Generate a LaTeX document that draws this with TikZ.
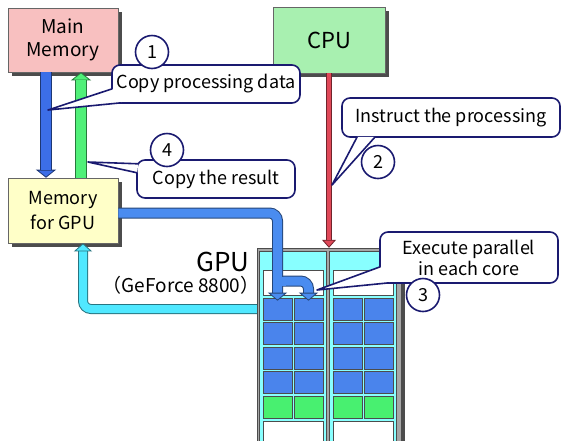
\documentclass[tikz,border=0pt]{standalone}
\usepackage{fontspec}
\setmainfont{Noto Sans CJK JP}
\usetikzlibrary{arrows.meta,shadows}
\definecolor{mainpink}{HTML}{F8C0C0}
\definecolor{cpugreen}{HTML}{A8F0B0}
\definecolor{memyellow}{HTML}{FFFFC8}
\definecolor{lineblue}{HTML}{1A1A70}
\definecolor{copyblue}{HTML}{3C6EE8}
\definecolor{gpublue}{HTML}{4A8CF0}
\definecolor{resultgreen}{HTML}{50F078}
\definecolor{returncyan}{HTML}{50E8FF}
\definecolor{cmdred}{HTML}{E04858}
\definecolor{corecyan}{HTML}{88FFFF}
\definecolor{coreblue}{HTML}{4A84EC}
\definecolor{coregreen}{HTML}{48F070}
\begin{document}
\begin{tikzpicture}[x=1pt,y=-1pt,
    membox/.style={draw=black!60,line width=0.6pt,align=center,inner sep=0pt,
      drop shadow={shadow xshift=4pt,shadow yshift=-4pt,fill=black!70,opacity=1}},
    fat/.style n args={4}{draw=#1!50!black,line width=#2,
      -{Triangle[width=#4,length=8pt,line width=0.8pt,fill=#1]},
      postaction={draw=#1,line width=#3,-,shorten >=8pt}},
    callout/.style={draw=lineblue,line width=1.6pt,fill=white,rounded corners=8pt,
      align=center,inner sep=0pt,font=\fontsize{18}{21}\selectfont},
    wedge/.style={draw=lineblue,line width=1.6pt,line join=round},
    stepnum/.style={circle,draw=lineblue,line width=1.6pt,fill=white,
      minimum size=33pt,inner sep=0pt,font=\fontsize{18}{18}\selectfont},
    core/.style={draw=black!70,line width=0.6pt,minimum width=29pt,
      minimum height=22pt,inner sep=0pt}]
\useasboundingbox (0,0) rectangle (570,440);
\clip (0,0) rectangle (570,440);

\node[membox,fill=mainpink,minimum width=110pt,minimum height=64pt,
  font=\fontsize{19}{23}\selectfont] (mainmem) at (63,40) {Main\\Memory};
\node[membox,fill=cpugreen,minimum width=112pt,minimum height=66pt,
  font=\fontsize{22}{24}\selectfont] (cpu) at (329,40) {CPU};
\node[membox,fill=memyellow,minimum width=110pt,minimum height=65pt,
  font=\fontsize{18}{25}\selectfont] (memgpu) at (63,210.5) {Memory\\for GPU};

\node[draw=black!70,fill=black!35,minimum width=144pt,minimum height=200pt,inner sep=0pt,
  drop shadow={shadow xshift=4pt,shadow yshift=-2pt,fill=black!70,opacity=1}] (gpu) at (329,348) {};
\node[draw=black!70,fill=corecyan,minimum width=67pt,minimum height=200pt,inner sep=0pt] (colL) at (293,351) {};
\node[draw=black!70,fill=corecyan,minimum width=67pt,minimum height=200pt,inner sep=0pt] (colR) at (363,351) {};
\node[core,fill=white,minimum width=60pt,minimum height=25pt] (bufL) at (293,282.5) {};
\node[core,fill=white,minimum width=60pt,minimum height=25pt] (bufR) at (363,282.5) {};
\foreach \r/\fillc in {1/coreblue,2/coreblue,3/coreblue,4/coreblue,5/coregreen}
  \foreach \c/\xc in {1/277.5,2/308.5,3/347.5,4/378.5}
    \node[core,fill=\fillc] (cell\r\c) at (\xc,{284.5+24.5*\r}) {};
\node[core,fill=white,minimum width=60pt] (restL) at (293,432.5) {};
\node[core,fill=white,minimum width=60pt] (restR) at (363,432.5) {};

\node[font=\fontsize{26}{26}\selectfont] (gpulabel) at (223,262) {GPU};
\node[font=\fontsize{19}{19}\selectfont] (gpumodel) at (181,285) {（GeForce 8800）};

\draw[fat={copyblue}{12pt}{10pt}{20pt}] ([xshift=-17pt]mainmem.south) -- ([xshift=-17pt]memgpu.north);
\draw[fat={resultgreen}{12pt}{10pt}{20pt}] ([xshift=18pt]memgpu.north) -- ([xshift=18pt]mainmem.south);
\draw[fat={cmdred}{6pt}{4.2pt}{14pt}] (cpu.south) -- (gpu.north);

\coordinate (out) at ([yshift=-2.5pt]memgpu.east);
\coordinate (split) at (278,281);
\draw[fat={gpublue}{11pt}{9pt}{19pt},rounded corners=8pt] (split)
  -- (split -| cell12.north) -- ([yshift=-3pt]cell12.north);
\draw[fat={gpublue}{11pt}{9pt}{19pt},rounded corners=8pt] (out)
  -- (cell11.north |- out) -- ([yshift=-3pt]cell11.north);
\draw[gpublue,line width=9pt] (split) -- ([xshift=8pt]split);

\coordinate (bend) at (83,309);
\draw[fat={returncyan}{10pt}{8pt}{18pt},rounded corners=8pt] (gpu.west |- bend)
  -- (bend) -- ([xshift=20pt]memgpu.south);

\node[callout,minimum width=188pt,minimum height=38pt] (say1) at (206,84) {Copy processing data};
\coordinate (tip1) at (48,110);
\fill[white] ([xshift=1pt,yshift=15pt]say1.south west) -- (tip1) -- ([xshift=10pt,yshift=1pt]say1.south west) -- cycle;
\draw[wedge] ([xshift=1pt,yshift=15pt]say1.south west) -- (tip1) -- ([xshift=10pt,yshift=1pt]say1.south west);
\node[stepnum] (num1) at (152,52) {1};

\node[callout,minimum width=158pt,minimum height=38pt] (say4) at (216,179) {Copy the result};
\coordinate (tip4) at (88,162);
\fill[white] ([xshift=2pt,yshift=35pt]say4.south west) -- (tip4) -- ([xshift=1pt,yshift=26pt]say4.south west) -- cycle;
\draw[wedge] ([xshift=2pt,yshift=35pt]say4.south west) -- (tip4) -- ([xshift=1pt,yshift=26pt]say4.south west);
\node[stepnum] (num4) at (167,150) {4};

\node[callout,minimum width=218pt,minimum height=39pt] (say2) at (451,117.5) {Instruct the processing};
\coordinate (tip2) at (332,185);
\fill[white] ([xshift=16pt,yshift=1pt]say2.south west) -- (tip2) -- ([xshift=34pt,yshift=1pt]say2.south west) -- cycle;
\draw[wedge] ([xshift=16pt,yshift=1pt]say2.south west) -- (tip2) -- ([xshift=34pt,yshift=1pt]say2.south west);
\node[stepnum] (num2) at (378,162) {2};

\node[callout,minimum width=178pt,minimum height=51pt] (say3) at (469,257.5) {Execute parallel\\in each core};
\coordinate (tip3) at (317,290);
\fill[white] ([xshift=1pt,yshift=17pt]say3.south west) -- (tip3) -- ([xshift=10pt,yshift=1pt]say3.south west) -- cycle;
\draw[wedge] ([xshift=1pt,yshift=17pt]say3.south west) -- (tip3) -- ([xshift=10pt,yshift=1pt]say3.south west);
\node[stepnum] (num3) at (423,295) {3};
\end{tikzpicture}
\end{document}
